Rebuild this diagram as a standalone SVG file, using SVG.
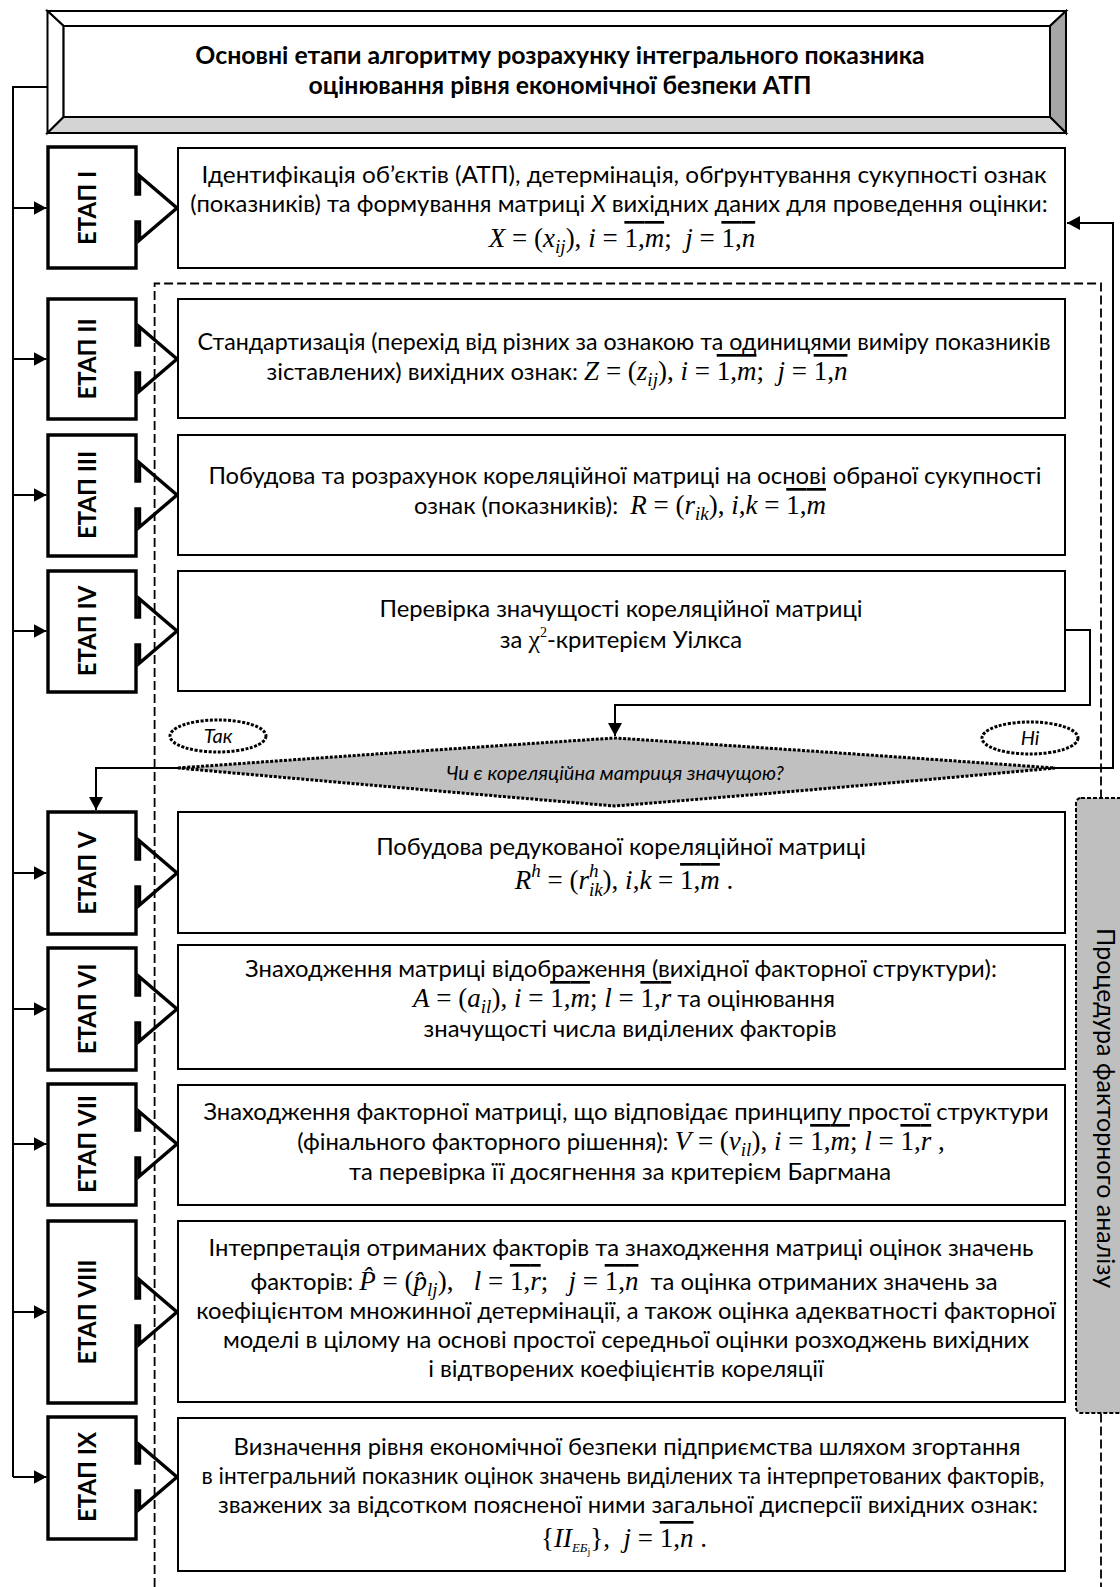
<svg xmlns="http://www.w3.org/2000/svg" width="1120" height="1587" viewBox="0 0 1120 1587">
<defs>
<style>
.t{font-family:Lato,'Noto Sans',sans-serif;font-size:23.8px;fill:#000}
.tb{font-family:Lato,'Noto Sans',sans-serif;font-size:24.8px;font-weight:bold;fill:#000}
.lbl{font-family:Lato,'Noto Sans',sans-serif;font-size:24px;font-weight:bold;fill:#000}
.it{font-family:Lato,'Noto Sans',sans-serif;font-size:20px;font-style:italic;fill:#000}
.f{font-family:'Liberation Serif','Times New Roman',serif;font-size:27px}
.fi{font-style:italic}
.sb{font-size:19px}
.ov{text-decoration:overline}
.box{fill:#fff;stroke:#000;stroke-width:2}
.etap{fill:#fff;stroke:#000;stroke-width:3.4;stroke-linejoin:miter}
.con{fill:none;stroke:#000;stroke-width:2}
.arr{fill:none;stroke:#000;stroke-width:2;marker-end:url(#ah)}
.bev{stroke:#000;stroke-width:2;stroke-linejoin:miter}
.dot{stroke:#000;stroke-width:3;stroke-dasharray:3 1.6}
</style>
<marker id="ah" markerUnits="userSpaceOnUse" markerWidth="14" markerHeight="14" refX="13" refY="7" orient="auto"><path d="M0,0 L13,7 L0,14 Z" fill="#000"/></marker>
</defs>
<rect width="1120" height="1587" fill="#fff"/>

<g id="title">
<path class="bev" fill="#fff" d="M47.5,11 L1066,11 L1050,26 L63.6,26 Z"/>
<path class="bev" fill="#fff" d="M47.5,11 L63.6,26 L63.6,117 L47.5,133 Z"/>
<path class="bev" fill="#a6a6a6" d="M1066,11 L1066,133 L1050,117 L1050,26 Z"/>
<path class="bev" fill="#d4d4d4" d="M47.5,133 L1066,133 L1050,117 L63.6,117 Z"/>
<rect class="box" x="63.6" y="26" width="986.4" height="91"/>
<text class="tb" x="560" y="64" text-anchor="middle">Основні етапи алгоритму розрахунку інтегрального показника</text>
<text class="tb" x="560" y="94" text-anchor="middle">оцінювання рівня економічної безпеки АТП</text>
</g>

<g id="connectors">
<path class="con" d="M47.5,87 H13 V1477"/>
<path class="arr" d="M13,208 H46.5"/>
<path class="arr" d="M13,359 H46.5"/>
<path class="arr" d="M13,495 H46.5"/>
<path class="arr" d="M13,631 H46.5"/>
<path class="arr" d="M13,873 H46.5"/>
<path class="arr" d="M13,1009 H46.5"/>
<path class="arr" d="M13,1144 H46.5"/>
<path class="arr" d="M13,1312 H46.5"/>
<path class="arr" d="M13,1477 H46.5"/>
<path class="arr" d="M1066,630 H1090 V705 H615 V736"/>
<path class="arr" d="M178,768 H96 V810"/>
<path class="arr" d="M1055,768 H1113 V223 H1067"/>
</g>

<g id="etap1"><path class="etap" d="M48,147 H136 V194 H139.5 V176 L177,208 L139.5,240 V222 H136 V268 H48 Z"/><text class="lbl" transform="translate(96,208) rotate(-90)" text-anchor="middle">ЕТАП I</text></g>
<g id="etap2"><path class="etap" d="M48,299 H136 V345 H139.5 V327 L177,359 L139.5,391 V373 H136 V419 H48 Z"/><text class="lbl" transform="translate(96,359) rotate(-90)" text-anchor="middle">ЕТАП II</text></g>
<g id="etap3"><path class="etap" d="M48,435 H136 V481 H139.5 V463 L177,495 L139.5,527 V509 H136 V556 H48 Z"/><text class="lbl" transform="translate(96,495) rotate(-90)" text-anchor="middle">ЕТАП III</text></g>
<g id="etap4"><path class="etap" d="M48,571 H136 V617 H139.5 V599 L177,631 L139.5,663 V645 H136 V692 H48 Z"/><text class="lbl" transform="translate(96,631) rotate(-90)" text-anchor="middle">ЕТАП IV</text></g>
<g id="etap5"><path class="etap" d="M48,812 H136 V859 H139.5 V841 L177,873 L139.5,905 V887 H136 V934 H48 Z"/><text class="lbl" transform="translate(96,873) rotate(-90)" text-anchor="middle">ЕТАП V</text></g>
<g id="etap6"><path class="etap" d="M48,948 H136 V995 H139.5 V977 L177,1009 L139.5,1041 V1023 H136 V1070 H48 Z"/><text class="lbl" transform="translate(96,1009) rotate(-90)" text-anchor="middle">ЕТАП VI</text></g>
<g id="etap7"><path class="etap" d="M48,1084 H136 V1130 H139.5 V1112 L177,1144 L139.5,1176 V1158 H136 V1205 H48 Z"/><text class="lbl" transform="translate(96,1144) rotate(-90)" text-anchor="middle">ЕТАП VII</text></g>
<g id="etap8"><path class="etap" d="M48,1221 H136 V1298 H139.5 V1280 L177,1312 L139.5,1344 V1326 H136 V1403 H48 Z"/><text class="lbl" transform="translate(96,1312) rotate(-90)" text-anchor="middle">ЕТАП VIII</text></g>
<g id="etap9"><path class="etap" d="M48,1417 H136 V1463 H139.5 V1445 L177,1477 L139.5,1509 V1491 H136 V1539 H48 Z"/><text class="lbl" transform="translate(96,1477) rotate(-90)" text-anchor="middle">ЕТАП IX</text></g>

<g id="box1">
<rect class="box" x="178" y="148" width="887" height="120"/>
<text class="t" x="624" y="183" text-anchor="middle" textLength="845" lengthAdjust="spacingAndGlyphs">Ідентифікація об’єктів (АТП), детермінація, обґрунтування сукупності ознак</text>
<text class="t" x="619" y="212" text-anchor="middle">(показників) та формування матриці <tspan font-style="italic">X</tspan> вихідних даних для проведення оцінки:</text>
<text class="f" x="622" y="247" text-anchor="middle" xml:space="preserve"><tspan class="fi">X</tspan> = (<tspan class="fi">x</tspan><tspan class="fi sb" dy="6">ij</tspan><tspan dy="-6">), </tspan><tspan class="fi">i</tspan> = <tspan class="ov">1,<tspan class="fi">m</tspan></tspan>;  <tspan class="fi">j</tspan> = <tspan class="ov">1,<tspan class="fi">n</tspan></tspan></text>
</g>

<g id="box2">
<rect class="box" x="178" y="299" width="887" height="119"/>
<text class="t" x="624" y="350" text-anchor="middle" textLength="853" lengthAdjust="spacingAndGlyphs">Стандартизація (перехід від різних за ознакою та одиницями виміру показників</text>
<text class="t" x="557" y="380" text-anchor="middle" xml:space="preserve">зіставлених) вихідних ознак: <tspan class="f fi">Z</tspan><tspan class="f"> = (</tspan><tspan class="f fi">z</tspan><tspan class="f fi sb" dy="6">ij</tspan><tspan class="f" dy="-6">), </tspan><tspan class="f fi">i</tspan><tspan class="f"> = </tspan><tspan class="f ov">1,<tspan class="fi">m</tspan></tspan><tspan class="f">;  </tspan><tspan class="f fi">j</tspan><tspan class="f"> = </tspan><tspan class="f ov">1,<tspan class="fi">n</tspan></tspan></text>
</g>

<g id="box3">
<rect class="box" x="178" y="435" width="887" height="120"/>
<text class="t" x="625" y="484" text-anchor="middle">Побудова та розрахунок кореляційної матриці на основі обраної сукупності</text>
<text class="t" x="620" y="514" text-anchor="middle" xml:space="preserve">ознак (показників):  <tspan class="f fi">R</tspan><tspan class="f"> = (</tspan><tspan class="f fi">r</tspan><tspan class="f fi sb" dy="6">ik</tspan><tspan class="f" dy="-6">), </tspan><tspan class="f fi">i</tspan><tspan class="f">,</tspan><tspan class="f fi">k</tspan><tspan class="f"> = </tspan><tspan class="f ov">1,<tspan class="fi">m</tspan></tspan></text>
</g>

<g id="box4">
<rect class="box" x="178" y="571" width="887" height="120"/>
<text class="t" x="621" y="617" text-anchor="middle">Перевірка значущості кореляційної матриці</text>
<text class="t" x="621" y="648" text-anchor="middle">за <tspan class="f" style="font-size:26px">χ</tspan><tspan class="f" style="font-size:14px" dy="-11">2</tspan><tspan dy="11">-критерієм Уілкса</tspan></text>
</g>

<g id="decision">
<path d="M178,768 Q400,752 615,738 Q830,752 1055,768 Q840,788 615,806 Q400,788 178,768 Z" fill="#c0c0c0" class="dot"/>
<text class="it" x="615" y="780" text-anchor="middle">Чи є кореляційна матриця значущою?</text>
<ellipse cx="218" cy="736" rx="48" ry="16" fill="#fff" class="dot"/>
<text class="it" x="218" y="743" text-anchor="middle">Так</text>
<ellipse cx="1030" cy="738" rx="48" ry="16" fill="#fff" class="dot"/>
<text class="it" x="1030" y="745" text-anchor="middle">Ні</text>
</g>

<g id="box5">
<rect class="box" x="178" y="812" width="887" height="121"/>
<text class="t" x="621" y="855" text-anchor="middle">Побудова редукованої кореляційної матриці</text>
<text class="f" x="624" y="889" text-anchor="middle" xml:space="preserve"><tspan class="fi">R</tspan><tspan class="fi sb" dy="-12">h</tspan><tspan dy="12"> = (</tspan><tspan class="fi">r</tspan><tspan class="fi sb" dy="-12">h</tspan><tspan class="fi sb" dx="-9.5" dy="19">ik</tspan><tspan dy="-7">), </tspan><tspan class="fi">i</tspan>,<tspan class="fi">k</tspan> = <tspan class="ov">1,<tspan class="fi">m</tspan></tspan> .</text>
</g>

<g id="box6">
<rect class="box" x="178" y="945" width="887" height="124"/>
<text class="t" x="621" y="977" text-anchor="middle">Знаходження матриці відображення (вихідної факторної структури):</text>
<text class="t" x="624" y="1007" text-anchor="middle" xml:space="preserve"><tspan class="f fi">A</tspan><tspan class="f"> = (</tspan><tspan class="f fi">a</tspan><tspan class="f fi sb" dy="6">il</tspan><tspan class="f" dy="-6">), </tspan><tspan class="f fi">i</tspan><tspan class="f"> = </tspan><tspan class="f ov">1,<tspan class="fi">m</tspan></tspan><tspan class="f">; </tspan><tspan class="f fi">l</tspan><tspan class="f"> = </tspan><tspan class="f ov">1,<tspan class="fi">r</tspan></tspan> та оцінювання</text>
<text class="t" x="630" y="1037" text-anchor="middle">значущості числа виділених факторів</text>
</g>

<g id="box7">
<rect class="box" x="178" y="1085" width="887" height="120"/>
<text class="t" x="626" y="1120" text-anchor="middle">Знаходження факторної матриці, що відповідає принципу простої структури</text>
<text class="t" x="621" y="1150" text-anchor="middle" xml:space="preserve">(фінального факторного рішення): <tspan class="f fi">V</tspan><tspan class="f"> = (</tspan><tspan class="f fi">v</tspan><tspan class="f fi sb" dy="6">il</tspan><tspan class="f" dy="-6">), </tspan><tspan class="f fi">i</tspan><tspan class="f"> = </tspan><tspan class="f ov">1,<tspan class="fi">m</tspan></tspan><tspan class="f">; </tspan><tspan class="f fi">l</tspan><tspan class="f"> = </tspan><tspan class="f ov">1,<tspan class="fi">r</tspan></tspan><tspan class="f"> ,</tspan></text>
<text class="t" x="620" y="1180" text-anchor="middle">та перевірка її досягнення за критерієм Баргмана</text>
</g>

<g id="box8">
<rect class="box" x="178" y="1221" width="887" height="181"/>
<text class="t" x="621" y="1256" text-anchor="middle">Інтерпретація отриманих факторів та знаходження матриці оцінок значень</text>
<text class="t" x="624" y="1290" text-anchor="middle" xml:space="preserve">факторів: <tspan class="f fi">P̂</tspan><tspan class="f"> = (</tspan><tspan class="f fi">p̂</tspan><tspan class="f fi sb" dy="6">lj</tspan><tspan class="f" dy="-6">),   </tspan><tspan class="f fi">l</tspan><tspan class="f"> = </tspan><tspan class="f ov">1,<tspan class="fi">r</tspan></tspan><tspan class="f">;   </tspan><tspan class="f fi">j</tspan><tspan class="f"> = </tspan><tspan class="f ov">1,<tspan class="fi">n</tspan></tspan>  та оцінка отриманих значень за</text>
<text class="t" x="626" y="1319" text-anchor="middle">коефіцієнтом множинної детермінації, а також оцінка адекватності факторної</text>
<text class="t" x="626" y="1348" text-anchor="middle">моделі в цілому на основі простої середньої оцінки розходжень вихідних</text>
<text class="t" x="626" y="1377" text-anchor="middle">і відтворених коефіцієнтів кореляції</text>
</g>

<g id="box9">
<rect class="box" x="178" y="1418" width="887" height="153"/>
<text class="t" x="627" y="1455" text-anchor="middle">Визначення рівня економічної безпеки підприємства шляхом згортання</text>
<text class="t" x="623" y="1484" text-anchor="middle" textLength="843" lengthAdjust="spacingAndGlyphs">в інтегральний показник оцінок значень виділених та інтерпретованих факторів,</text>
<text class="t" x="628" y="1513" text-anchor="middle">зважених за відсотком поясненої ними загальної дисперсії вихідних ознак:</text>
<text class="f" x="624" y="1547" text-anchor="middle" xml:space="preserve">{<tspan class="fi">II</tspan><tspan class="fi" style="font-size:13px" dy="5">ЕБ</tspan><tspan style="font-size:10px" dy="3">j</tspan><tspan dy="-8">},  </tspan><tspan class="fi">j</tspan> = <tspan class="ov">1,<tspan class="fi">n</tspan></tspan> .</text>
</g>

<g id="frame">
<path d="M154.6,1587 V283.5 H1101 V1587" fill="none" stroke="#000" stroke-width="1.8" stroke-dasharray="9 4"/>
</g>

<g id="procedure">
<rect x="1076" y="798" width="70" height="615" rx="5" fill="#bfbfbf" stroke="#000" stroke-width="2" stroke-dasharray="4 2"/>
<text class="t" style="font-size:25px" transform="translate(1097,1108) rotate(90)" text-anchor="middle">Процедура факторного аналізу</text>
</g>
</svg>
